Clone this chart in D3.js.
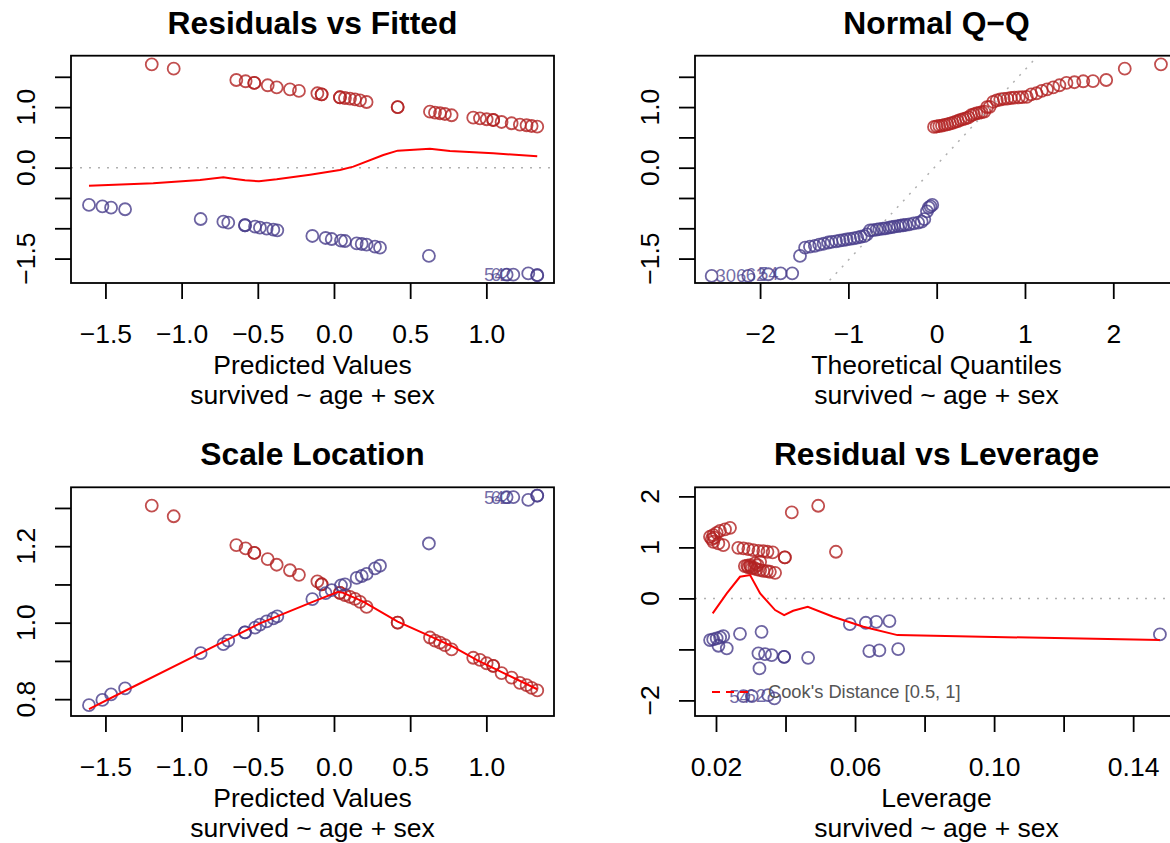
<!DOCTYPE html>
<html>
<head>
<meta charset="utf-8">
<script src="https://cdn.jsdelivr.net/npm/d3@7"></script>
<style>
  body { margin: 0; background: #fff; }
  svg { display: block; font-family: "Liberation Sans", Arial, Helvetica, sans-serif; }
</style>
</head>
<body>
<svg id="chart" width="1170" height="843"></svg>
<script>
// fitted values / residuals (survived = 1 red, survived = 0 blue)
const fitRed = [-1.196, -1.052, -0.641, -0.580, -0.523, -0.523, -0.435, -0.376, -0.289, -0.230, -0.109, -0.081, -0.081,
  0.039, 0.039, 0.072, 0.105, 0.138, 0.171, 0.214, 0.418, 0.418, 0.630, 0.663, 0.696, 0.728, 0.772,
  0.914, 0.958, 1.002, 1.045, 1.045, 1.100, 1.166, 1.220, 1.264, 1.297, 1.334];
const resRed = [1.706, 1.634, 1.447, 1.426, 1.398, 1.398, 1.360, 1.326, 1.293, 1.266, 1.228, 1.211, 1.211,
  1.162, 1.162, 1.150, 1.139, 1.128, 1.112, 1.084, 1.000, 1.000, 0.924, 0.908, 0.898, 0.886, 0.865,
  0.825, 0.815, 0.799, 0.787, 0.787, 0.754, 0.733, 0.710, 0.700, 0.688, 0.677];
const fitBlue = [-1.608, -1.520, -1.463, -1.371, -0.875, -0.726, -0.694, -0.584, -0.584, -0.518, -0.486, -0.442,
  -0.398, -0.372, -0.142, -0.055, -0.015, 0.046, 0.072, 0.149, 0.182, 0.214, 0.269, 0.302, 0.623,
  1.133, 1.177, 1.275, 1.334, 1.334];
const resBlue = [-0.615, -0.637, -0.660, -0.686, -0.847, -0.891, -0.908, -0.950, -0.950, -0.974, -0.990, -1.007,
  -1.023, -1.033, -1.127, -1.160, -1.177, -1.205, -1.210, -1.248, -1.259, -1.271, -1.304, -1.320, -1.457,
  -1.765, -1.765, -1.745, -1.775, -1.775];
const blueIds = { 25: "54", 26: "62" };

// loess smooths
const loessFitX = [-1.608, -1.186, -0.879, -0.726, -0.661, -0.584, -0.492, -0.376, -0.157, 0.039, 0.127, 0.324, 0.418, 0.630, 0.761, 1.045, 1.334];
const loessFitY = [-0.297, -0.258, -0.203, -0.159, -0.181, -0.208, -0.225, -0.192, -0.115, -0.038, 0.017, 0.210, 0.281, 0.314, 0.276, 0.237, 0.188];
const loessScaleX = [-1.608, -1.360, -0.879, -0.486, -0.136, 0.028, 0.061, 0.192, 0.418, 0.630, 0.783, 0.936, 1.111, 1.334];
const loessScaleY = [0.774, 0.824, 0.920, 0.998, 1.055, 1.081, 1.078, 1.055, 1.003, 0.965, 0.937, 0.903, 0.869, 0.826];

// normal Q-Q
const qqRedX = [-0.03, 0.00, 0.03, 0.06, 0.09, 0.12, 0.15, 0.18, 0.21, 0.24, 0.27, 0.30, 0.33, 0.36, 0.39,
  0.42, 0.45, 0.48, 0.51, 0.54, 0.57, 0.60, 0.64, 0.68, 0.72, 0.76, 0.80, 0.84, 0.88, 0.93,
  0.97, 1.02, 1.07, 1.13, 1.19, 1.25, 1.32, 1.39, 1.47, 1.56, 1.66, 1.77, 1.92, 2.13, 2.54];
const qqRedY = [0.672, 0.680, 0.688, 0.695, 0.705, 0.715, 0.728, 0.740, 0.755, 0.770, 0.790, 0.800, 0.815, 0.830, 0.865,
  0.880, 0.895, 0.905, 0.915, 0.925, 1.000, 1.005, 1.085, 1.110, 1.125, 1.135, 1.140, 1.150, 1.155, 1.160,
  1.165, 1.170, 1.211, 1.228, 1.266, 1.293, 1.326, 1.360, 1.398, 1.410, 1.426, 1.430, 1.447, 1.634, 1.706];
const qqBlueX = [-2.548, -2.133, -1.907, -1.767, -1.636, -1.548, -1.49, -1.435, -1.38, -1.33, -1.28, -1.23, -1.19, -1.14, -1.10,
  -1.06, -1.02, -0.98, -0.94, -0.90, -0.86, -0.82, -0.79, -0.755, -0.72, -0.68, -0.65, -0.61, -0.58, -0.54,
  -0.51, -0.48, -0.44, -0.41, -0.38, -0.35, -0.31, -0.26, -0.21, -0.17, -0.14, -0.11, -0.09, -0.07, -0.05];
const qqBlueY = [-1.787, -1.787, -1.759, -1.743, -1.743, -1.457, -1.320, -1.304, -1.29, -1.27, -1.255, -1.235, -1.225, -1.215, -1.205,
  -1.195, -1.185, -1.175, -1.165, -1.155, -1.14, -1.13, -1.10, -1.033, -1.030, -1.023, -1.015, -1.007, -1.000, -0.990,
  -0.980, -0.974, -0.965, -0.955, -0.950, -0.945, -0.935, -0.920, -0.908, -0.891, -0.85, -0.72, -0.66, -0.637, -0.615];
const qqIds = { 1: "306", 2: "62", 3: "54" };
const qqLine = { intercept: 0.045, slope: 1.571 };

// residual vs leverage
const levRed = [0.0418, 0.0494, 0.0545, 0.0398, 0.0398, 0.01827, 0.01923, 0.0202, 0.02115, 0.02259, 0.02403, 0.0188, 0.0195,
  0.01923, 0.02067, 0.0221, 0.0264, 0.0279, 0.0293, 0.0307, 0.0322, 0.0336, 0.0348, 0.0363,
  0.0283, 0.0293, 0.0303, 0.0317, 0.0327, 0.0336, 0.0346, 0.0355, 0.0370, 0.0298, 0.0312, 0.0327,
  0.0290, 0.0300, 0.0310, 0.0320];
const resLevRed = [1.686, 1.816, 0.914, 0.804, 0.804, 1.208, 1.241, 1.286, 1.325, 1.353, 1.384, 1.16, 1.19,
  1.110, 1.078, 1.045, 0.992, 0.980, 0.967, 0.947, 0.933, 0.927, 0.914, 0.902,
  0.633, 0.608, 0.588, 0.569, 0.555, 0.541, 0.535, 0.522, 0.502, 0.653, 0.686, 0.718,
  0.64, 0.62, 0.60, 0.65];
const levBlue = [0.1477, 0.0585, 0.0631, 0.0661, 0.0699, 0.0641, 0.0670, 0.0724, 0.0269, 0.0331,
  0.0183, 0.0192, 0.0202, 0.0212, 0.0221, 0.0231, 0.0207, 0.0322, 0.0341, 0.0360, 0.0396, 0.0396,
  0.0465, 0.0325, 0.0279, 0.0303, 0.0350, 0.0368];
const resLevBlue = [-0.706, -0.504, -0.478, -0.459, -0.445, -1.033, -1.020, -0.994, -0.694, -0.655,
  -0.818, -0.804, -0.784, -0.765, -0.739, -0.980, -0.929, -1.078, -1.092, -1.112, -1.145, -1.145,
  -1.165, -1.373, -1.916, -1.916, -1.896, -1.961];
const levIds = { 25: "54", 26: "62" };
const loessLevX = [0.01905, 0.0231, 0.0269, 0.0298, 0.0327, 0.0370, 0.0396, 0.0422, 0.0464, 0.0537, 0.0624, 0.0722, 0.1477];
const loessLevY = [-0.294, 0.098, 0.424, 0.457, 0.098, -0.229, -0.327, -0.243, -0.165, -0.361, -0.557, -0.720, -0.818];

// ticks and labels
const xTicksFit = [-1.5, -1, -0.5, 0, 0.5, 1];
const yTicksRes = [-1.5, -1, -0.5, 0, 0.5, 1, 1.5];
const yLabelsRes = [-1.5, 0, 1];
const xTicksQQ = [-2, -1, 0, 1, 2];
const yTicksScale = [0.8, 0.9, 1.0, 1.1, 1.2, 1.3];
const yLabelsScale = [0.8, 1.0, 1.2];
const xTicksLev = [0.02, 0.04, 0.06, 0.08, 0.10, 0.12, 0.14];
const xLabelsLev = [0.02, 0.06, 0.10, 0.14];
const yTicksLev = [-2, -1, 0, 1, 2];
const yLabelsLev = [-2, 0, 1, 2];

const RED = "#B22222", BLUE = "#483D8B";
const FS = 26.5;
const svg = d3.select("#chart");
svg.append("rect").attr("width", 1170).attr("height", 843).attr("fill", "#fff");

const has = (arr, d) => arr.some(v => Math.abs(v - d) < 1e-9);
let clipId = 0;

function panel(cfg) {
  const [x0, x1] = cfg.xr, [y0, y1] = cfg.yr;
  const x = d3.scaleLinear().domain(cfg.xDomain).range([x0, x1]);
  const y = d3.scaleLinear().domain(cfg.yDomain).range([y1, y0]);
  const g = svg.append("g");

  const id = "clip" + (clipId++);
  svg.append("defs").append("clipPath").attr("id", id)
    .append("rect").attr("x", x0).attr("y", y0).attr("width", x1 - x0).attr("height", y1 - y0);
  const plot = g.append("g").attr("clip-path", `url(#${id})`);

  // x axis
  const xLab = cfg.xLabels || cfg.xTicks;
  const gx = g.append("g")
    .attr("transform", `translate(0,${y1})`)
    .call(d3.axisBottom(x).tickValues(cfg.xTicks).tickSize(16).tickSizeOuter(0).tickPadding(25)
      .tickFormat(d => has(xLab, d) ? cfg.xFmt(d) : ""));
  gx.select(".domain").remove();
  gx.selectAll("line").attr("stroke", "#000").attr("stroke-width", 1.8);
  gx.selectAll("text").attr("fill", "#000").attr("font-size", FS).attr("font-family", null);

  // y axis, labels parallel to axis
  const gy = g.append("g")
    .attr("transform", `translate(${x0},0)`)
    .call(d3.axisLeft(y).tickValues(cfg.yTicks).tickSize(16).tickSizeOuter(0).tickFormat(""));
  gy.select(".domain").remove();
  gy.selectAll("line").attr("stroke", "#000").attr("stroke-width", 1.8);
  g.selectAll("text.ylab").data(cfg.yLabels).join("text")
    .attr("class", "ylab")
    .attr("transform", d => `translate(${x0 - 36},${y(d)}) rotate(-90)`)
    .attr("text-anchor", "middle").attr("font-size", FS)
    .text(cfg.yFmt);

  // titles
  g.append("text").attr("x", (x0 + x1) / 2).attr("y", y0 - 22).attr("text-anchor", "middle")
    .attr("font-size", FS * 1.2).attr("font-weight", "bold").text(cfg.title);
  g.append("text").attr("x", (x0 + x1) / 2).attr("y", y1 + 91).attr("text-anchor", "middle")
    .attr("font-size", FS).text(cfg.xlab);
  g.append("text").attr("x", (x0 + x1) / 2).attr("y", y1 + 121).attr("text-anchor", "middle")
    .attr("font-size", FS).text("survived ~ age + sex");

  g.append("rect").attr("x", x0).attr("y", y0).attr("width", x1 - x0).attr("height", y1 - y0)
    .attr("fill", "none").attr("stroke", "#000").attr("stroke-width", 1.8);

  return { x, y, plot };
}

function points(p, xs, ys, color) {
  p.plot.append("g").selectAll("circle").data(xs).join("circle")
    .attr("cx", d => p.x(d)).attr("cy", (d, i) => p.y(ys[i])).attr("r", 6)
    .attr("fill", "none").attr("stroke", color).attr("stroke-opacity", 0.8).attr("stroke-width", 1.8);
}

function ids(p, xs, ys, lab) {
  Object.entries(lab).forEach(([i, t]) => {
    p.plot.append("text").attr("x", p.x(xs[+i]) - 2).attr("y", p.y(ys[+i])).attr("dy", "0.35em")
      .attr("text-anchor", "end").attr("font-size", 18.5).attr("fill", BLUE).attr("fill-opacity", 0.75).text(t);
  });
}

function smooth(p, xs, ys) {
  const line = d3.line().x(d => p.x(d)).y((d, i) => p.y(ys[i]));
  p.plot.append("path").datum(xs).attr("d", line)
    .attr("fill", "none").attr("stroke", "#FF0000").attr("stroke-width", 2);
}

function hzero(p) {
  p.plot.append("line").attr("x1", p.x.range()[0]).attr("x2", p.x.range()[1])
    .attr("y1", p.y(0)).attr("y2", p.y(0))
    .attr("stroke", "#b0b0b0").attr("stroke-width", 1.5).attr("stroke-dasharray", "2,7");
}

const f1 = d3.format(".1f");

// Residuals vs Fitted
const p1 = panel({
  xr: [71, 554], yr: [55.7, 283], xDomain: [-1.726, 1.444], yDomain: [-1.903, 1.848],
  xTicks: xTicksFit, xFmt: f1, yTicks: yTicksRes, yLabels: yLabelsRes, yFmt: f1,
  title: "Residuals vs Fitted", xlab: "Predicted Values"
});
points(p1, fitRed, resRed, RED);
points(p1, fitBlue, resBlue, BLUE);
hzero(p1);
smooth(p1, loessFitX, loessFitY);
ids(p1, fitBlue, resBlue, blueIds);

// Normal Q-Q
const p2 = panel({
  xr: [695, 1178], yr: [55.7, 283], xDomain: [-2.737, 2.733], yDomain: [-1.903, 1.848],
  xTicks: xTicksQQ, xFmt: d3.format("d"), yTicks: yTicksRes, yLabels: yLabelsRes, yFmt: f1,
  title: "Normal Q\u2212Q", xlab: "Theoretical Quantiles"
});
points(p2, qqBlueX, qqBlueY, BLUE);
points(p2, qqRedX, qqRedY, RED);
{
  const [a, b] = p2.x.domain();
  p2.plot.append("line")
    .attr("x1", p2.x(a)).attr("y1", p2.y(qqLine.intercept + qqLine.slope * a))
    .attr("x2", p2.x(b)).attr("y2", p2.y(qqLine.intercept + qqLine.slope * b))
    .attr("stroke", "#b0b0b0").attr("stroke-width", 1.5).attr("stroke-dasharray", "2,7");
}
ids(p2, qqBlueX, qqBlueY, qqIds);

// Scale Location: sqrt(|residual|) of the residuals above
const p3 = panel({
  xr: [71, 554], yr: [487.3, 716], xDomain: [-1.726, 1.444], yDomain: [0.756, 1.354],
  xTicks: xTicksFit, xFmt: f1, yTicks: yTicksScale, yLabels: yLabelsScale, yFmt: f1,
  title: "Scale Location", xlab: "Predicted Values"
});
const sqRed = resRed.map(r => Math.sqrt(Math.abs(r)));
const sqBlue = resBlue.map(r => Math.sqrt(Math.abs(r)));
points(p3, fitRed, sqRed, RED);
points(p3, fitBlue, sqBlue, BLUE);
smooth(p3, loessScaleX, loessScaleY);
ids(p3, fitBlue, sqBlue, blueIds);

// Residual vs Leverage
const p4 = panel({
  xr: [695, 1178], yr: [487.3, 716], xDomain: [0.01396, 0.1529], yDomain: [-2.306, 2.178],
  xTicks: xTicksLev, xLabels: xLabelsLev, xFmt: d3.format(".2f"),
  yTicks: yTicksLev, yLabels: yLabelsLev, yFmt: d3.format("d"),
  title: "Residual vs Leverage", xlab: "Leverage"
});
points(p4, levRed, resLevRed, RED);
points(p4, levBlue, resLevBlue, BLUE);
hzero(p4);
smooth(p4, loessLevX, loessLevY);
ids(p4, levBlue, resLevBlue, levIds);

// legend
const lg = svg.append("g").attr("transform", "translate(712,692)");
lg.append("line").attr("x1", 0).attr("x2", 36).attr("stroke", "#FF0000").attr("stroke-width", 2)
  .attr("stroke-dasharray", "8,6");
lg.append("text").attr("x", 56).attr("y", 5.5).attr("font-size", 18.3).attr("fill", "#555")
  .text("Cook's Distance [0.5, 1]");
</script>
</body>
</html>
